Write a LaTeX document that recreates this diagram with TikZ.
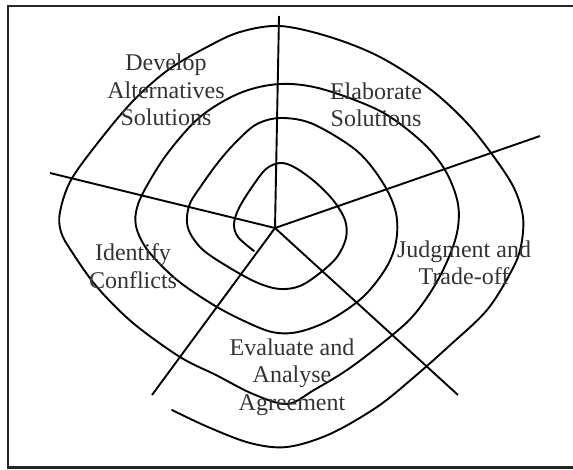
\documentclass[tikz,border=0pt]{standalone}
\usepackage{fontspec}
\setmainfont{Liberation Serif}
\begin{document}
\begin{tikzpicture}[x=1pt,y=-1pt,
  curve/.style={line width=1.9pt, line join=round, line cap=round},
  spoke/.style={line width=1.9pt, line cap=butt},
  lab/.style={align=center, text=black!80, font=\fontsize{24}{27.5}\selectfont, inner sep=0pt}]
\useasboundingbox (0,0) rectangle (573,469);
% frame
\draw[line width=2.4pt, black!85] (575,6) -- (8,6) -- (8,467.5) -- (575,467.5);
% centre and spoke ends
\coordinate (c) at (275,228);
\coordinate (eu) at (279,16);
\coordinate (el) at (50,173);
\coordinate (eur) at (540,136);
\coordinate (elr) at (458,395);
\coordinate (ell) at (152,395);
\foreach \e in {eu,el,eur,elr,ell} \draw[spoke] (c) -- (\e);
% spiral
\draw[curve] plot[smooth, tension=0.55] coordinates {
 (254,251) (238,237) (234,224) (239,208) (252,187) (266,169) (280,163)
 (294,167) (314,181) (333,200) (345,220) (346,238) (337,257) (320,273)
 (300,286) (280,289) (258,283) (230,268) (202,249) (188,228) (189,206)
 (201,186) (220,160) (238,140) (257,124) (281,118) (313,124) (357,151)
 (383,183) (396,213) (396,242) (386,268) (363,297) (330,320) (298,332)
 (272,332) (242,320) (212,304) (177,280) (149,252) (137,230) (136,212)
 (144,191) (167,154) (200,117) (240,93) (280,84) (322,89) (380,111)
 (421,141) (445,170) (458,204) (456,237) (439,278) (413,316) (380,345)
 (347,370) (314,390) (287,404) (253,394) (216,375) (180,357) (133,323)
 (97,287) (72,252) (61,232) (60,212) (71,180) (100,140) (133,101)
 (168,70) (207,47) (240,32) (280,26) (330,37) (380,57) (430,89)
 (467,123) (494,157) (514,188) (523,217) (521,246) (512,270) (487,310)
 (448,347) (413,378) (377,407) (330,434) (287,447) (250,443) (208,427)
 (172,410)};
% labels
\node[lab] (dev) at (166,90) {Develop\\Alternatives\\Solutions};
\node[lab] (ela) at (376,105) {Elaborate\\Solutions};
\node[lab] (idc) at (133,266) {Identify\\Conflicts};
\node[lab] (jud) at (464,263) {Judgment and\\Trade-off};
\node[lab] (eva) at (292,377) {Evaluate and\\Analyse\\Agreement};
\end{tikzpicture}
\end{document}
